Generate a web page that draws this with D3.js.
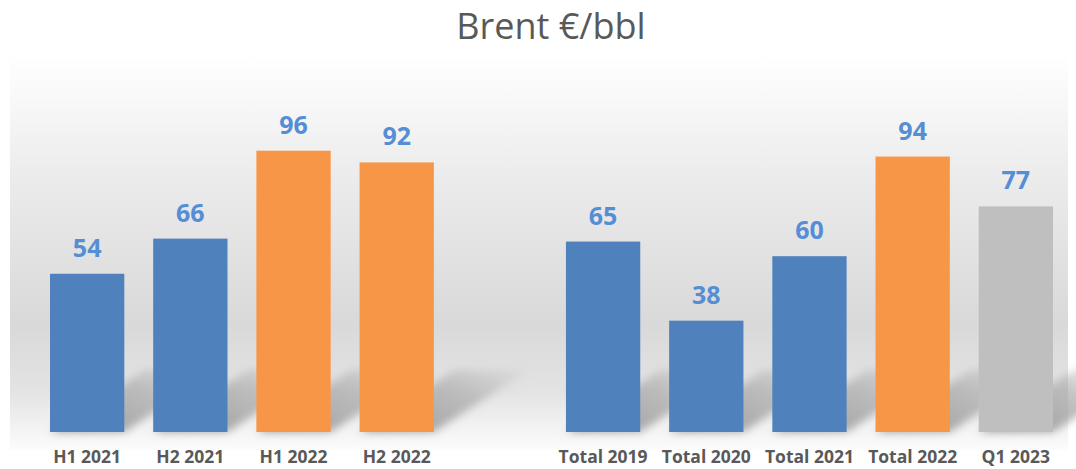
<!DOCTYPE html>
<html>
<head>
<meta charset="utf-8">
<script src="https://cdn.jsdelivr.net/npm/d3@7"></script>
<style>
  body { margin: 0; background: #fff; }
  text { font-family: "Open Sans", sans-serif; }
</style>
</head>
<body>
<script>
// data
var categories = ["H1 2021", "H2 2021", "H1 2022", "H2 2022", "",
                  "Total 2019", "Total 2020", "Total 2021", "Total 2022", "Q1 2023"];
var values = [54, 66, 96, 92, null, 65, 38, 60, 94, 77];
var kinds = ["past", "past", "y2022", "y2022", null, "past", "past", "past", "y2022", "q1"];

var width = 1076, height = 469;
var colors = { past: "#4f81bd", y2022: "#f79646", q1: "#bfbfbf" };

var svg = d3.select("body").append("svg")
    .attr("width", width)
    .attr("height", height);

var defs = svg.append("defs");

// plot area background gradient
var bg = defs.append("linearGradient")
    .attr("id", "bg").attr("x1", 0).attr("y1", 0).attr("x2", 0).attr("y2", 1);
bg.append("stop").attr("offset", "0%").attr("stop-color", "#ffffff");
bg.append("stop").attr("offset", "30%").attr("stop-color", "#ececec");
bg.append("stop").attr("offset", "68%").attr("stop-color", "#d9d9d9");
bg.append("stop").attr("offset", "85%").attr("stop-color", "#e3e3e3");
bg.append("stop").attr("offset", "100%").attr("stop-color", "#fcfcfc");

defs.append("filter").attr("id", "blur")
    .attr("x", "-20%").attr("y", "-20%").attr("width", "140%").attr("height", "140%")
  .append("feGaussianBlur").attr("stdDeviation", 4);

var shadowGrad = defs.append("linearGradient")
    .attr("id", "shadowGrad").attr("x1", 0).attr("y1", 1).attr("x2", 1).attr("y2", 0);
shadowGrad.append("stop").attr("offset", "0%").attr("stop-color", "#909090").attr("stop-opacity", 0.95);
shadowGrad.append("stop").attr("offset", "60%").attr("stop-color", "#a0a0a0").attr("stop-opacity", 0.6);
shadowGrad.append("stop").attr("offset", "100%").attr("stop-color", "#b0b0b0").attr("stop-opacity", 0.1);

svg.append("rect")
    .attr("x", 10).attr("y", 55)
    .attr("width", width - 18).attr("height", 395)
    .attr("fill", "url(#bg)");

var x = d3.scaleBand()
    .domain(categories.map(function(d, i) { return i; }))
    .range([50, 1053])
    .paddingInner(0.28)
    .paddingOuter(0);

var y = d3.scaleLinear()
    .domain([0, 100])
    .range([432, 139]);

var data = categories.map(function(c, i) {
  return { i: i, name: c, value: values[i], kind: kinds[i] };
}).filter(function(d) { return d.value !== null; });

// perspective shadows behind bars
var shDx = 95, shDy = 62;
svg.append("g").selectAll("path")
    .data(data)
  .enter().append("path")
    .attr("d", function(d) {
      var x0 = x(d.i), x1 = x(d.i) + x.bandwidth(), b = y(0);
      return "M" + x0 + "," + b + "L" + x1 + "," + b +
             "L" + (x1 + shDx) + "," + (b - shDy) + "L" + (x0 + shDx) + "," + (b - shDy) + "Z";
    })
    .attr("fill", "url(#shadowGrad)")
    .attr("filter", "url(#blur)");

svg.append("g").selectAll("rect")
    .data(data)
  .enter().append("rect")
    .attr("x", function(d) { return x(d.i); })
    .attr("y", function(d) { return y(d.value); })
    .attr("width", x.bandwidth())
    .attr("height", function(d) { return y(0) - y(d.value); })
    .attr("fill", function(d) { return colors[d.kind]; });

// value labels
svg.append("g").selectAll("text")
    .data(data)
  .enter().append("text")
    .attr("x", function(d) { return x(d.i) + x.bandwidth() / 2; })
    .attr("y", function(d) { return y(d.value) - 17; })
    .attr("text-anchor", "middle")
    .attr("font-size", 25)
    .attr("font-weight", "bold")
    .attr("fill", "#558ed5")
    .text(function(d) { return d.value; });

// category axis
var xAxis = d3.axisBottom(x)
    .tickSize(0)
    .tickFormat(function(i) { return categories[i]; });

var axisG = svg.append("g")
    .attr("transform", "translate(0," + 448 + ")")
    .call(xAxis);
axisG.select(".domain").remove();
axisG.selectAll("text")
    .attr("font-family", "Open Sans, sans-serif")
    .attr("font-size", 17.5)
    .attr("font-weight", "bold")
    .attr("fill", "#595959");

svg.append("text")
    .attr("x", 551)
    .attr("y", 39)
    .attr("text-anchor", "middle")
    .attr("font-size", 36)
    .attr("fill", "#595959")
    .text("Brent €/bbl");
</script>
</body>
</html>
